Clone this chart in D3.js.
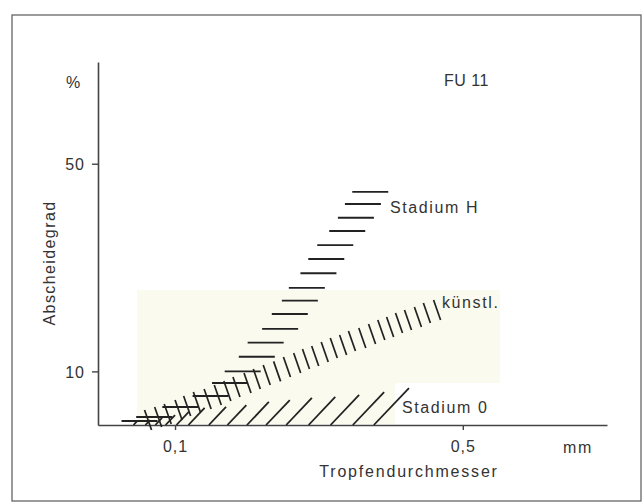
<!DOCTYPE html>
<html><head><meta charset="utf-8">
<script src="https://cdn.jsdelivr.net/npm/d3@7/dist/d3.min.js"></script>
<style>
body{margin:0;background:#fff}
text{font-family:"Liberation Sans",Arial,sans-serif;fill:#333;font-size:16px;letter-spacing:1.6px}
</style>
</head><body>
<svg id="c" width="644" height="504"></svg>
<script>
// Stadium H : horizontal dashes (drop diameter mm, separation %)
const stadiumH_x = [0.298,0.286,0.275,0.262,0.245,0.233,0.223,0.209,0.201,0.190,0.180,0.166,0.158,0.146,0.136,0.122,0.103,0.089,0.082];
const stadiumH_y = [40.2,36.6,32.9,29.7,26.6,23.9,21.4,19.1,17.3,15.6,13.9,12.5,11.2,10.0,9.14,8.26,7.59,7.02,6.81];
// künstl. : short back-slash ticks
const kuenstl_x = [0.086,0.091,0.096,0.102,0.107,0.113,0.120,0.127,0.134,0.141,0.150,0.158,0.167,0.177,0.187,0.198,0.208,0.219,0.231,0.243,0.256,0.269,0.285,0.301,0.317,0.333,0.350,0.368,0.389,0.409,0.433];
const kuenstl_y = [6.86,7.02,7.19,7.41,7.65,7.89,8.07,8.33,8.59,8.86,9.14,9.43,9.72,10.0,10.35,10.67,11.0,11.27,11.62,11.99,12.27,12.66,12.95,13.36,13.79,14.11,14.55,14.89,15.25,15.73,16.09];
// Stadium 0 : hatch tops
const stadium0_x = [0.081,0.087,0.093,0.100,0.108,0.118,0.133,0.149,0.169,0.190,0.215,0.245,0.280,0.322,0.370];
const stadium0_y = [6.81,6.86,6.97,7.13,7.30,7.53,7.59,7.70,7.89,8.01,8.14,8.20,8.33,8.52,8.79];
// axis ticks
const xTicks = [0.1,0.5];
const xTickLabels = ["0,1","0,5"];
const yTicks = [10,50];
const yTickLabels = ["10","50"];

const svg = d3.select("#c");
const x = d3.scaleLog().domain([0.065,1.12]).range([98,607]);
const y = d3.scaleLog().domain([6.6,110]).range([425,62]);
const y0 = y.range()[0];

// frame
svg.append("rect").attr("x",12).attr("y",15).attr("width",629).attr("height",486)
  .attr("fill","none").attr("stroke","#666").attr("stroke-width",1.3);

// cream scan background
svg.append("path")
  .attr("d","M137,290H500V383H395V424H137Z")
  .attr("fill","#fafaee");

// axes
const gy = svg.append("g").attr("transform","translate(98,0)")
  .call(d3.axisLeft(y).tickValues(yTicks).tickSize(6).tickSizeOuter(0).tickPadding(7)
    .tickFormat((d,i)=>yTickLabels[i]));
const gx = svg.append("g").attr("transform",`translate(0,${y0})`)
  .call(d3.axisBottom(x).tickValues(xTicks).tickSize(5).tickSizeOuter(0).tickPadding(11)
    .tickFormat((d,i)=>xTickLabels[i]));
[gy,gx].forEach(g=>{
  g.select(".domain").attr("stroke","#444").attr("stroke-width",1.6);
  g.selectAll(".tick line").attr("stroke","#444").attr("stroke-width",1.4);
  g.selectAll(".tick text").attr("font-size",16).attr("fill","#333")
    .attr("font-family","Liberation Sans, Arial, sans-serif").style("letter-spacing","1px");
});
gy.selectAll(".tick text").attr("dy","0.36em");

// Stadium 0 hatches
const s0 = stadium0_x.map((v,i)=>({x:v,y:stadium0_y[i]}));
svg.append("g").selectAll("line").data(s0).join("line")
  .attr("x1",d=>x(d.x)).attr("y1",d=>y(d.y))
  .attr("x2",d=>x(d.x)-(y0-y(d.y))*0.95).attr("y2",y0)
  .attr("stroke","#222").attr("stroke-width",1.8);

// künstl. ticks
const ku = kuenstl_x.map((v,i)=>({x:v,y:kuenstl_y[i]}));
svg.append("g").selectAll("line").data(ku).join("line")
  .attr("x1",d=>x(d.x)-3.5).attr("y1",d=>y(d.y)-10)
  .attr("x2",d=>x(d.x)+3.5).attr("y2",d=>y(d.y)+10)
  .attr("stroke","#222").attr("stroke-width",1.7);

// Stadium H dashes
const sh = stadiumH_x.map((v,i)=>({x:v,y:stadiumH_y[i]}));
svg.append("g").selectAll("line").data(sh).join("line")
  .attr("x1",d=>x(d.x)-18).attr("y1",d=>y(d.y))
  .attr("x2",d=>x(d.x)+18).attr("y2",d=>y(d.y))
  .attr("stroke","#222").attr("stroke-width",1.9);

// labels
const lab = (t,xx,yy,anchor,extra)=>{
  const e = svg.append("text").attr("x",xx).attr("y",yy).attr("text-anchor",anchor||"start").text(t);
  if(extra) extra(e);
  return e;
};
lab("Stadium H",390,213);
lab("künstl.",442,308);
lab("Stadium 0",402,413);
lab("FU 11",444,86,"start",e=>e.style("letter-spacing","0.5px"));
lab("%",66,88);
lab("mm",563,453);
lab("Tropfendurchmesser",409,477,"middle",e=>e.style("letter-spacing","1.8px"));
svg.append("text").attr("transform","translate(55,263) rotate(-90)")
  .attr("text-anchor","middle").style("letter-spacing","1.4px").text("Abscheidegrad");
</script>
</body></html>
